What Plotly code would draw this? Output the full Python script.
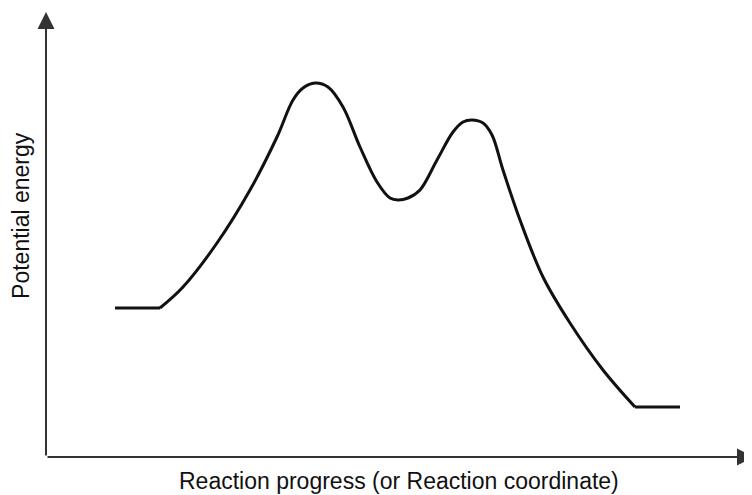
import plotly.graph_objects as go

# Reaction coordinate (arbitrary units) and potential energy (arbitrary units)
progress = [69, 114, 137, 171, 204, 231, 247, 257, 269, 282, 297, 314, 331, 344,
            352, 362, 374, 391, 407, 417, 426, 437, 446, 457, 474, 497, 524, 557,
            589, 634]
energy = [149, 149, 170, 214, 267, 320, 357, 369, 374, 370, 350, 310, 275, 259,
          257, 259, 267, 297, 325, 335, 337, 334, 322, 287, 237, 180, 134, 87,
          50, 50]

x_label = "Reaction progress (or Reaction coordinate)"
y_label = "Potential energy"

X_MIN, X_MAX = -38, 714
Y_MIN, Y_MAX = -46, 449
X_AXIS_END = 708
Y_AXIS_END = 445

fig = go.Figure()
line_style = dict(color="#111111", width=3)

fig.add_trace(go.Scatter(x=progress[:2], y=energy[:2], mode="lines",
                         line=dict(**line_style, shape="linear"), hoverinfo="skip"))
fig.add_trace(go.Scatter(x=progress[1:-1], y=energy[1:-1], mode="lines",
                         line=dict(**line_style, shape="spline", smoothing=1.0), hoverinfo="skip"))
fig.add_trace(go.Scatter(x=progress[-2:], y=energy[-2:], mode="lines",
                         line=dict(**line_style, shape="linear"), hoverinfo="skip"))

axis_color = "#333333"
fig.add_annotation(x=X_AXIS_END, y=0, ax=0, ay=0, xref="x", yref="y", axref="x", ayref="y",
                   showarrow=True, arrowhead=2, arrowsize=1.7, arrowwidth=2,
                   arrowcolor=axis_color, text="")
fig.add_annotation(x=0, y=Y_AXIS_END, ax=0, ay=0, xref="x", yref="y", axref="x", ayref="y",
                   showarrow=True, arrowhead=2, arrowsize=1.7, arrowwidth=2,
                   arrowcolor=axis_color, text="")

fig.add_annotation(text=x_label, xref="paper", yref="paper", x=0.52, y=0.045,
                   xanchor="center", yanchor="middle", showarrow=False,
                   font=dict(family="Liberation Sans, Arial", size=23, color="#111111"))
fig.add_annotation(text=y_label, xref="paper", yref="paper", x=0.0173, y=0.580,
                   xanchor="center", yanchor="middle", showarrow=False, textangle=-90,
                   font=dict(family="Liberation Sans, Arial", size=23, color="#111111"))

fig.update_layout(
    width=752, height=495,
    margin=dict(l=0, r=0, t=0, b=0),
    paper_bgcolor="white", plot_bgcolor="white",
    showlegend=False,
    xaxis=dict(range=[X_MIN, X_MAX], visible=False, fixedrange=True),
    yaxis=dict(range=[Y_MIN, Y_MAX], visible=False, fixedrange=True),
)

fig.write_html("out.html")
